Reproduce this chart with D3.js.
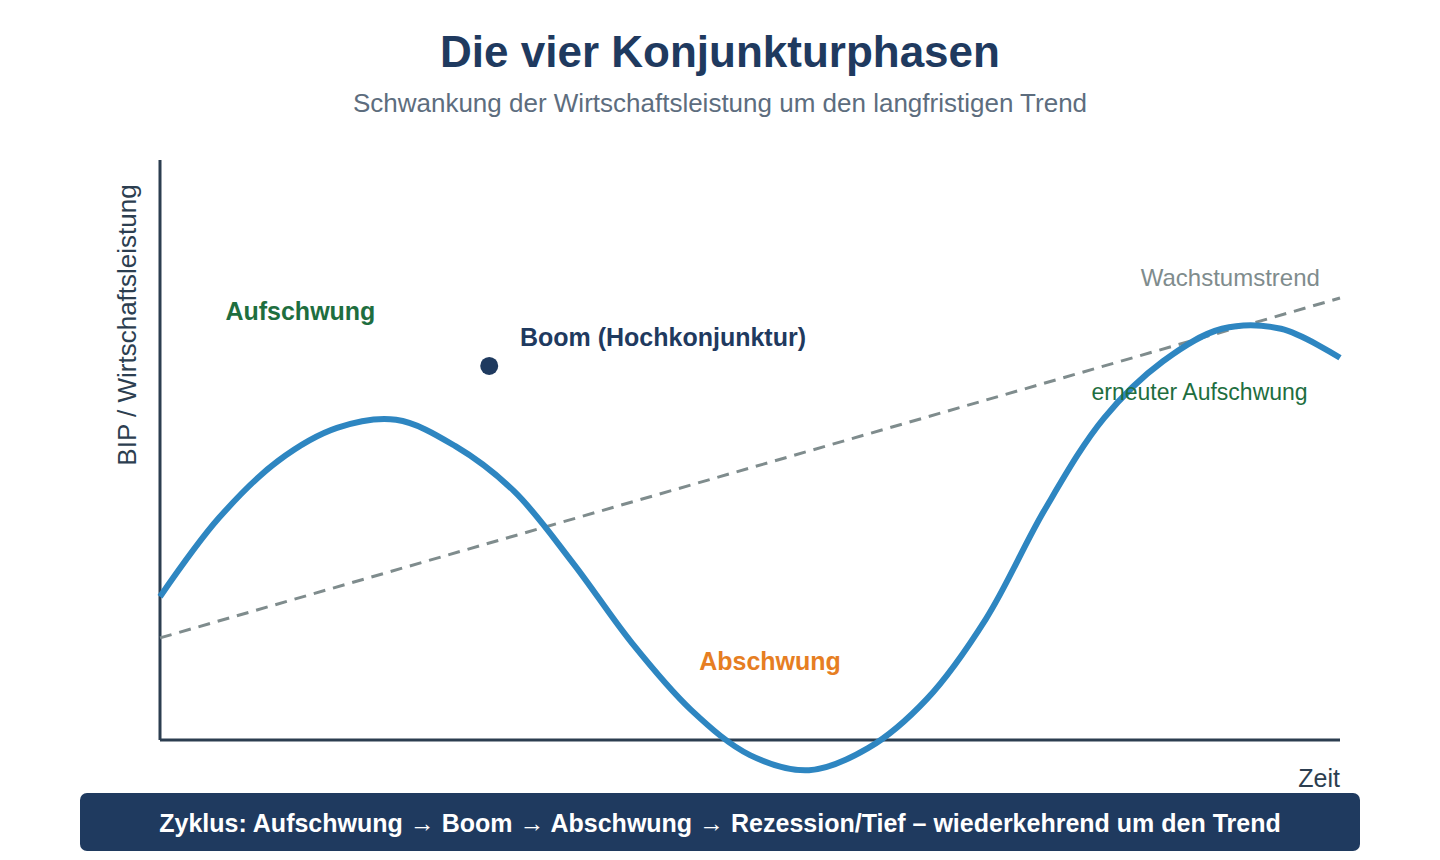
<!DOCTYPE html>
<html lang="de">
<head>
<meta charset="UTF-8">
<title>Die vier Konjunkturphasen</title>
<script src="https://d3js.org/d3.v7.min.js"></script>
<style>
  body { margin: 0; background: #fff; font-family: "Liberation Sans", Arial, Helvetica, sans-serif; }
</style>
</head>
<body>
<div id="chart"></div>
<script>
// time (0-100) and output (0-100)
const timeVals = [0, 5, 10, 15, 20, 25, 30, 35, 40, 45, 50, 55, 60, 65, 70, 75, 80, 85, 90, 95, 100];
const gdpVals  = [24.7, 38.3, 48.1, 53.8, 55.2, 50.7, 42.9, 30.5, 16.7, 5.2, -2.6, -5.2, -1.4, 7.1, 20.9, 39.8, 55.5, 65.3, 70.9, 70.9, 65.9];

const trendTime = [0, 100];
const trendVals = [17.6, 76.2];

const phaseLabels = [
  { text: "Aufschwung", t: 11.9, v: 72.4, color: "#1e6e3f", weight: "bold", size: 25, anchor: "middle" },
  { text: "Boom (Hochkonjunktur)", t: 30.5, v: 67.9, color: "#1f3a5f", weight: "bold", size: 25, anchor: "start" },
  { text: "Abschwung", t: 51.7, v: 12.1, color: "#e67e22", weight: "bold", size: 25, anchor: "middle" },
  { text: "erneuter Aufschwung", t: 88.1, v: 58.6, color: "#1e6e3f", weight: "normal", size: 23, anchor: "middle" },
  { text: "Wachstumstrend", t: 90.7, v: 78.3, color: "#7f8c8d", weight: "normal", size: 24, anchor: "middle" }
];
const boomPoint = { t: 27.9, v: 64.5 };

const width = 1440, height = 860;
const margin = { left: 160, right: 100, top: 160, bottom: 120 };

const svg = d3.select("#chart").append("svg")
  .attr("width", width)
  .attr("height", height);

const x = d3.scaleLinear().domain([0, 100]).range([margin.left, width - margin.right]);
const y = d3.scaleLinear().domain([0, 100]).range([height - margin.bottom, margin.top]);

// titles
svg.append("text")
  .attr("x", width / 2).attr("y", 67)
  .attr("text-anchor", "middle")
  .attr("font-size", 44).attr("font-weight", "bold")
  .attr("fill", "#1f3a5f")
  .text("Die vier Konjunkturphasen");

svg.append("text")
  .attr("x", width / 2).attr("y", 112)
  .attr("text-anchor", "middle")
  .attr("font-size", 26)
  .attr("fill", "#5d6d7e")
  .text("Schwankung der Wirtschaftsleistung um den langfristigen Trend");

// axes (plain lines, no ticks)
svg.append("line")
  .attr("x1", x(0)).attr("x2", x(0))
  .attr("y1", y(100)).attr("y2", y(0))
  .attr("stroke", "#2c3e50").attr("stroke-width", 3);
svg.append("line")
  .attr("x1", x(0)).attr("x2", x(100))
  .attr("y1", y(0)).attr("y2", y(0))
  .attr("stroke", "#2c3e50").attr("stroke-width", 3);

svg.append("text")
  .attr("transform", `translate(136,325) rotate(-90)`)
  .attr("text-anchor", "middle")
  .attr("font-size", 26)
  .attr("fill", "#2c3e50")
  .text("BIP / Wirtschaftsleistung");

svg.append("text")
  .attr("x", x(100)).attr("y", 787)
  .attr("text-anchor", "end")
  .attr("font-size", 25)
  .attr("fill", "#2c3e50")
  .text("Zeit");

// trend line
const trendLine = d3.line().x((d, i) => x(trendTime[i])).y(d => y(d));
svg.append("path")
  .datum(trendVals)
  .attr("d", trendLine)
  .attr("fill", "none")
  .attr("stroke", "#7f8c8d")
  .attr("stroke-width", 3)
  .attr("stroke-dasharray", "12,8");

// business cycle curve
const cycleLine = d3.line()
  .x((d, i) => x(timeVals[i]))
  .y(d => y(d))
  .curve(d3.curveCatmullRom.alpha(0.5));
svg.append("path")
  .datum(gdpVals)
  .attr("d", cycleLine)
  .attr("fill", "none")
  .attr("stroke", "#2e86c1")
  .attr("stroke-width", 6);

// boom marker
svg.append("circle")
  .attr("cx", x(boomPoint.t)).attr("cy", y(boomPoint.v))
  .attr("r", 9)
  .attr("fill", "#1f3a5f");

svg.selectAll(".phase")
  .data(phaseLabels)
  .enter()
  .append("text")
  .attr("class", "phase")
  .attr("x", d => x(d.t))
  .attr("y", d => y(d.v))
  .attr("text-anchor", d => d.anchor)
  .attr("font-size", d => d.size)
  .attr("font-weight", d => d.weight)
  .attr("fill", d => d.color)
  .text(d => d.text);

// bottom banner
svg.append("rect")
  .attr("x", 80).attr("y", 793)
  .attr("width", 1280).attr("height", 58)
  .attr("rx", 7)
  .attr("fill", "#1f3a5f");
svg.append("text")
  .attr("x", width / 2).attr("y", 832)
  .attr("text-anchor", "middle")
  .attr("font-size", 25).attr("font-weight", "bold")
  .attr("fill", "#ffffff")
  .text("Zyklus: Aufschwung → Boom → Abschwung → Rezession/Tief – wiederkehrend um den Trend");
</script>
</body>
</html>
